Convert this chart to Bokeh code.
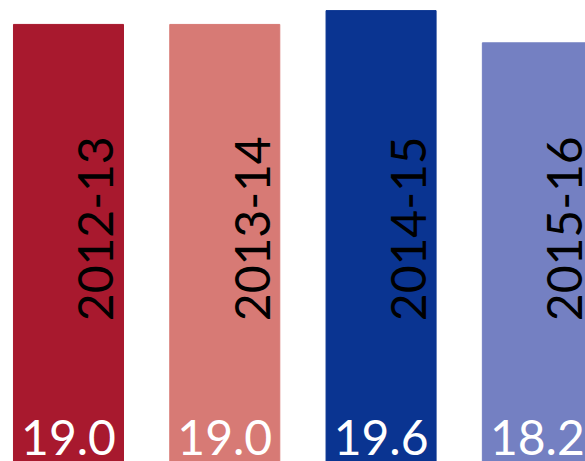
from bokeh.plotting import figure
from bokeh.models import ColumnDataSource, Range1d
from bokeh.core.properties import value
from bokeh.embed import file_html
from bokeh.resources import INLINE

seasons = ["2012-13", "2013-14", "2014-15", "2015-16"]
values = [19.0, 19.0, 19.6, 18.2]
colors = ["#A8192E", "#D77A75", "#0A3491", "#7480C2"]

xs = list(range(len(seasons)))
src = ColumnDataSource(dict(
    x=xs,
    top=values,
    color=colors,
    season=seasons,
    label=[f"{v:.1f}" for v in values],
    lx=[x + 0.175 for x in xs],
    ly=[6.1] * len(xs),
    vy=[1.05] * len(xs),
))

p = figure(width=585, height=461, output_backend="svg", toolbar_location=None,
           x_range=Range1d(-0.435, 3.308), y_range=Range1d(0, 20.04),
           min_border=0)
p.xaxis.visible = False
p.yaxis.visible = False
p.grid.visible = False
p.outline_line_color = None
p.background_fill_color = "white"
p.border_fill_color = "white"

p.vbar(x="x", top="top", bottom=0, width=0.704, color="color", source=src)

p.text(x="lx", y="ly", text="season", angle=1.5708, source=src,
       text_font=value("Lato, sans-serif"), text_font_size="48px", text_color="black",
       text_align="left", text_baseline="alphabetic")

p.text(x="x", y="vy", text="label", source=src,
       text_font=value("Lato, sans-serif"), text_font_size="48px", text_color="white",
       text_align="center", text_baseline="alphabetic")

open("out.html", "w").write(file_html(p, INLINE))
